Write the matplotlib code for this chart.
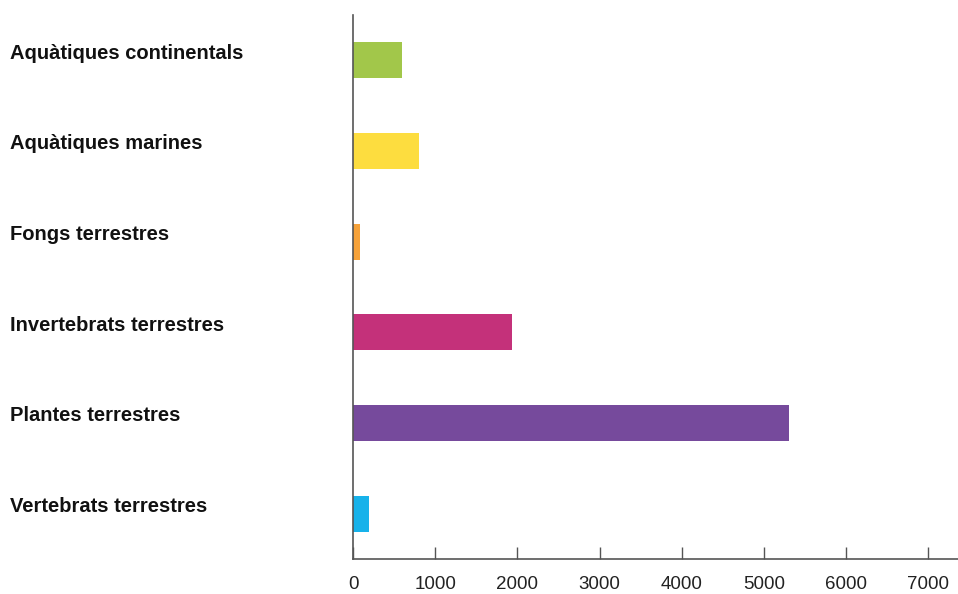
import matplotlib
matplotlib.use('Agg')
from matplotlib import pyplot as plt
import matplotlib.transforms as mtransforms

categories = ['Aquàtiques continentals', 'Aquàtiques marines', 'Fongs terrestres',
              'Invertebrats terrestres', 'Plantes terrestres', 'Vertebrats terrestres']
values = [600, 800, 90, 1940, 5300, 200]
colors = ['#a2c74a', '#fddd3f', '#f6a23a', '#c4317a', '#764a9c', '#17b2ea']
x_ticks = [0, 1000, 2000, 3000, 4000, 5000, 6000, 7000]

plt.rcParams['font.family'] = ['Liberation Sans', 'DejaVu Sans']

fig = plt.figure(figsize=(9.58, 5.94), dpi=100)
ax = fig.add_axes([0.3685, 0.0589, 0.632, 0.9158])

pos = list(range(len(categories)))
ax.barh(pos, values, height=0.4, color=colors)

ax.set_ylim(5.5, -0.5)
ax.set_xlim(0, 7366)

ax.set_yticks([])
ax.set_xticks(x_ticks)
ax.set_xticklabels([str(t) for t in x_ticks], fontsize=13.5, color='#222222')
ax.tick_params(axis='x', direction='in', length=9, width=1, color='#555555', pad=12)

for side in ['top', 'right']:
    ax.spines[side].set_visible(False)
for side in ['left', 'bottom']:
    ax.spines[side].set_color('#555555')
    ax.spines[side].set_linewidth(1.2)

# category names sit at the left edge of the figure, a bit above each bar
trans = mtransforms.blended_transform_factory(fig.transFigure, ax.transData)
for p, name in zip(pos, categories):
    ax.text(0.01, p - 0.08, name, transform=trans, ha='left', va='center',
            fontsize=14.5, fontweight='bold', color='#111111')

fig.savefig('out.png', dpi=100)
